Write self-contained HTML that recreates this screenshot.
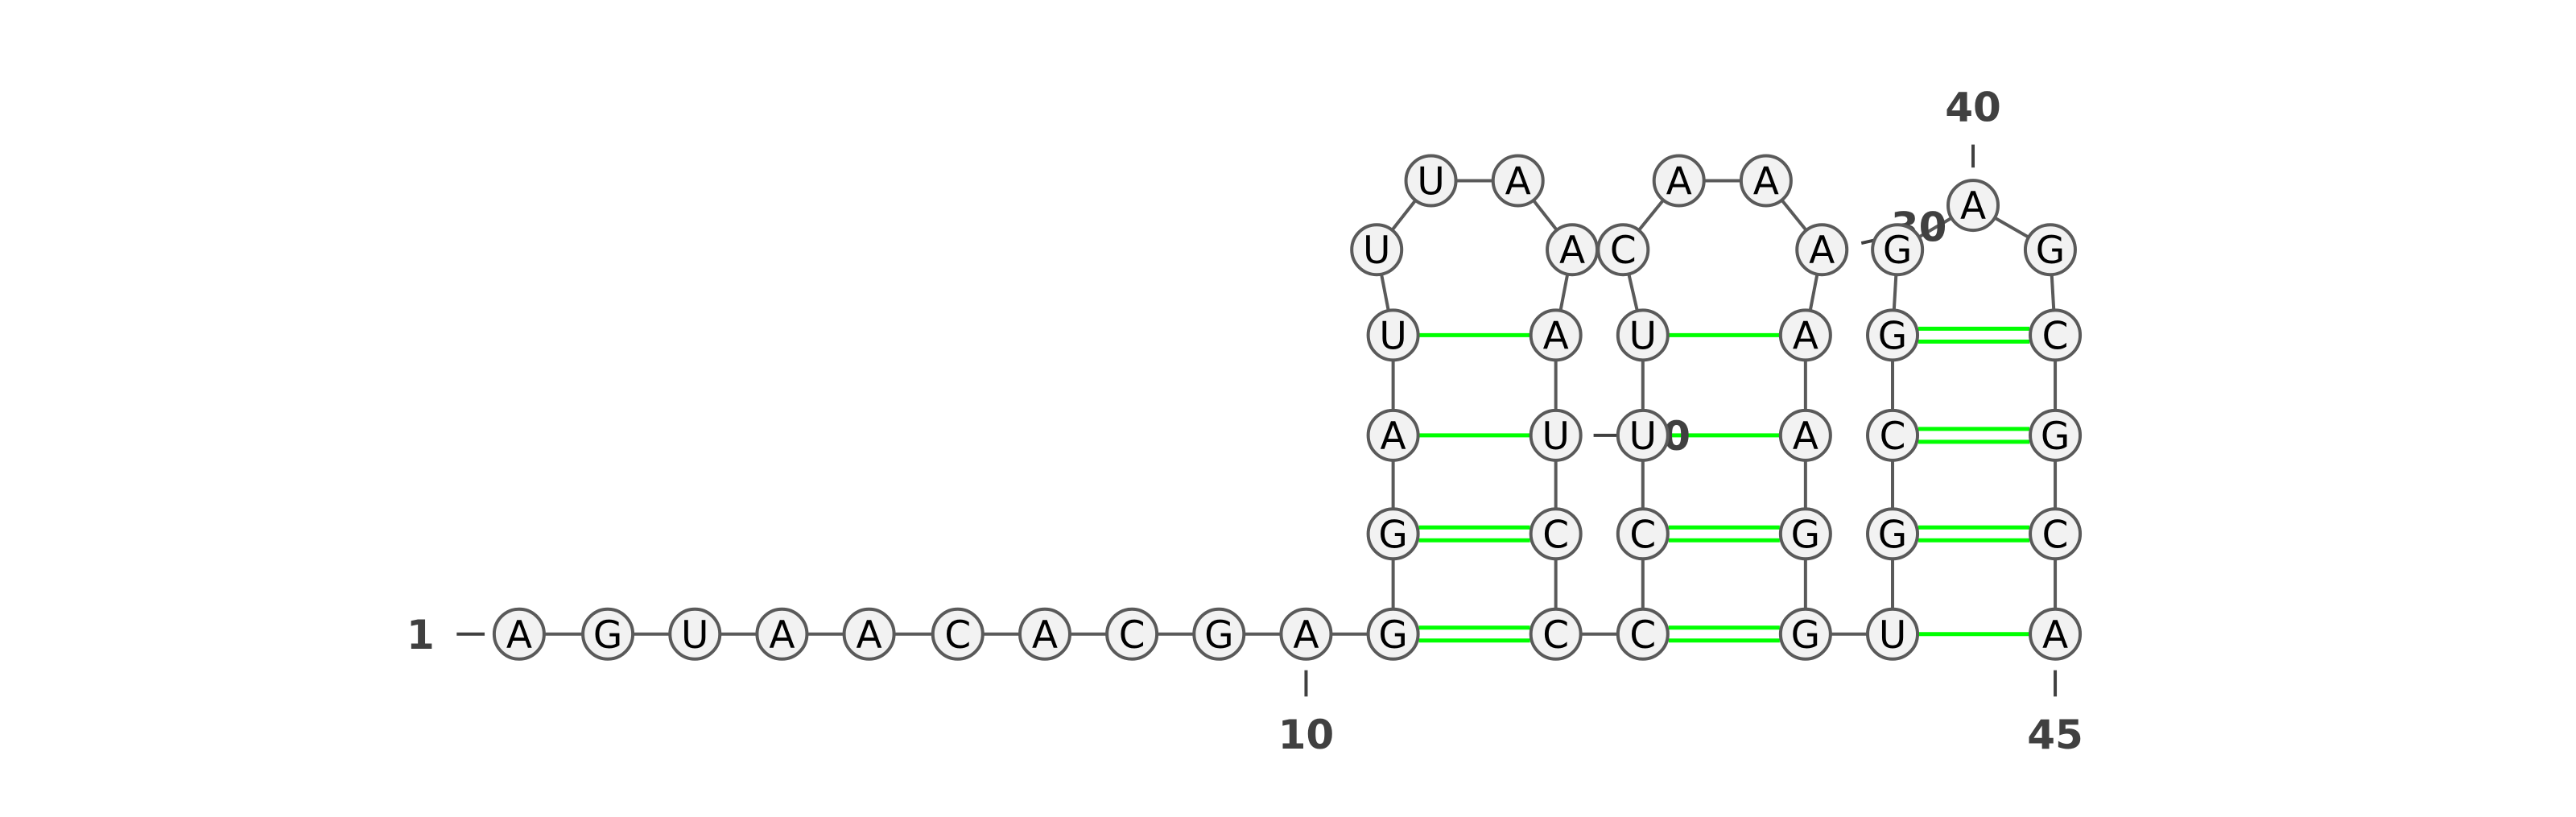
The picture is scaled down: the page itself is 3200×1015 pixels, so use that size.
<!DOCTYPE html>
<html><head><meta charset="utf-8"><style>
html,body{margin:0;padding:0;background:#fff;width:3200px;height:1015px;overflow:hidden}
</style></head><body>
<svg id="c" width="3200" height="1015" viewBox="0 0 3200 1015" xmlns="http://www.w3.org/2000/svg"></svg>
<script>
const sequence = "AGUAACACGAGGAUUUAAAUCCCCUUCAAAAAGGUGCGGAGCGCA".split("");
const pairs = [[11,22],[12,21],[13,20],[14,19],[23,34],[24,33],[25,32],[26,31],[35,45],[36,44],[37,43],[38,42]];
const labelNums = [1,10,20,30,40,45];
// layout (display units)
const S=3200/1568;
const layout=[[316,386],[370,386],[423,386],[476,386],[529,386],[583,386],[636,386],[689,386],[742,386],[795,386],
[848,386],[848,325],[848,265],[848,204],[838,152],[871,110],[924,110],[957,152],[947,204],[947,265],[947,325],[947,386],
[1000,386],[1000,325],[1000,265],[1000,204],[988,152],[1022,110],[1075,110],[1109,152],[1099,204],[1099,265],[1099,325],[1099,386],
[1152,386],[1152,325],[1152,265],[1152,204],[1155,152],[1201,125],[1248,152],[1251,204],[1251,265],[1251,325],[1251,386]];
const labelPos={1:[[256,386],[278,386,295,386]],10:[[795,447],[795,408,795,424]],20:[[1012,265],[970,265,985,265]],30:[[1168,138],[1133,148,1142,146]],40:[[1201,65],[1201,88,1201,102]],45:[[1251,447],[1251,408,1251,424]]};
const svg=document.getElementById('c');const NS='http://www.w3.org/2000/svg';
function mk(t,a,p){const e=document.createElementNS(NS,t);for(const k in a)e.setAttribute(k,a[k]);(p||svg).appendChild(e);return e;}
const P=layout.map(p=>[p[0]*S,p[1]*S]);
// backbone
for(let i=0;i<sequence.length-1;i++){
 const l=mk('line',{x1:P[i][0],y1:P[i][1],x2:P[i+1][0],y2:P[i+1][1],stroke:'#5a5a5a','stroke-width':4});
 
 
}
// pairs
pairs.forEach(([a,b])=>{
 const A=P[a-1],B=P[b-1];const s=sequence[a-1]+sequence[b-1];
 const gc=(s=='GC'||s=='CG');
 const offs=gc?[-8,8]:[0];
 offs.forEach(o=>{
  const l=mk('line',{x1:A[0]+32,y1:A[1]+o,x2:B[0]-32,y2:B[1]+o,stroke:'#00ff00','stroke-width':5});
  
  
 });
});
// labels
labelNums.forEach(n=>{
 const [t,tk]=labelPos[n];
 const l=mk('line',{x1:tk[0]*S,y1:tk[1]*S,x2:tk[2]*S,y2:tk[3]*S,stroke:'#404040','stroke-width':4});
 
 
 const tx=mk('text',{x:t[0]*S,y:t[1]*S+18,'text-anchor':'middle','font-family':'DejaVu Sans, sans-serif','font-weight':'bold','font-size':50,fill:'#404040'});
 tx.textContent=String(n);
 
 
});
// nodes
sequence.forEach((b,i)=>{
 const g=mk('g',{});
 
 
 mk('circle',{cx:P[i][0],cy:P[i][1],r:31,fill:'#f2f2f2',stroke:'#5a5a5a','stroke-width':4},g);
 const t=mk('text',{x:P[i][0],y:P[i][1]+17,'text-anchor':'middle','font-family':'DejaVu Sans, sans-serif','font-size':47,fill:'#000'},g);
 t.textContent=b;
});
</script>
</body></html>
